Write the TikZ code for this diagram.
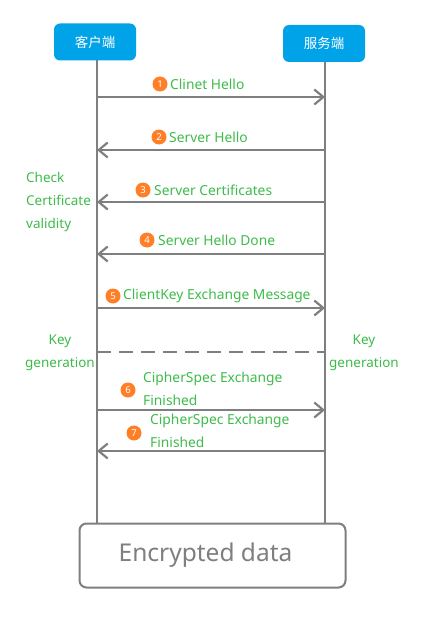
\documentclass[tikz,border=0pt]{standalone}
\usepackage{fontspec}
\setmainfont{Noto Sans}
\newfontfamily\cjk{Noto Sans CJK SC}
\usetikzlibrary{arrows.meta}
\definecolor{hdr}{HTML}{00A2E8}
\definecolor{lgray}{HTML}{7F7F7F}
\definecolor{lbl}{HTML}{3DBB4B}
\definecolor{num}{HTML}{FF7F27}
\tikzset{
  hdrbox/.style={fill=hdr, rounded corners=6pt, minimum width=82pt, minimum height=37pt, text=white, font=\cjk\fontsize{13.5}{15}\selectfont, inner sep=0pt},
  life/.style={draw=lgray, line width=2.5pt},
  msg/.style={draw=lgray, line width=2.5pt, -{Straight Barb[length=9pt,width=15pt,line width=2.2pt]}},
  numc/.style={circle, fill=num, text=white, minimum size=15pt, inner sep=0pt, font=\fontsize{9.5}{10}\selectfont},
  lab/.style={text=lbl, font=\fontsize{13.8}{16}\selectfont, inner sep=0pt, anchor=west},
  side/.style={text=lbl, font=\fontsize{13.5}{23}\selectfont, inner sep=0pt, align=center},
}
\begin{document}
\begin{tikzpicture}[x=1pt,y=-1pt]
\useasboundingbox (0,0) rectangle (447,623);
% lifelines
\coordinate (ctop) at (97,60);
\coordinate (cbot) at (97,525);
\coordinate (stop) at (325,62);
\coordinate (sbot) at (325,525);
\draw[life] (ctop) -- (cbot);
\draw[life] (stop) -- (sbot);
% headers
\node[hdrbox] (cli) at (95,42) {客户端};
\node[hdrbox] (srv) at (324,43.5) {服务端};
% encrypted box
\node[draw=lgray, line width=2pt, rounded corners=7pt, fill=white, minimum width=266pt, minimum height=64pt, text=lgray, font=\fontsize{24.5}{28}\selectfont] (enc) at (212.5,555.5) {\hspace*{-14pt}Encrypted data};
% message coordinates
\foreach \i/\y in {1/97,2/150,3/202,4/254,5/308,6/410,7/451}{
  \coordinate (c\i) at (97,\y);
  \coordinate (s\i) at (325,\y);
}
\draw[msg] (c1) -- (s1);
\draw[msg] (s2) -- (c2);
\draw[msg] (s3) -- (c3);
\draw[msg] (s4) -- (c4);
\draw[msg] (c5) -- (s5);
\draw[msg] (c6) -- (s6);
\draw[msg] (s7) -- (c7);
% dashed separator
\coordinate (cd) at (97,352);
\coordinate (sd) at (325,352);
\draw[draw=lgray, line width=2.5pt, dash pattern=on 14pt off 8pt] (cd) -- (sd);
% labels
\node[numc] (n1) at (160,84) {1};
\node[lab] (t1) at (170,84) {Clinet Hello};
\node[numc] (n2) at (159,137) {2};
\node[lab] (t2) at (169,137) {Server Hello};
\node[numc] (n3) at (143,190) {3};
\node[lab] (t3) at (154,190) {Server Certificates};
\node[numc] (n4) at (147,240) {4};
\node[lab] (t4) at (158,240) {Server Hello Done};
\node[numc] (n5) at (113,296) {5};
\node[lab] (t5) at (123,296) {ClientKey Exchange Message};
\node[numc] (n6) at (128,390) {6};
\node[lab, align=left, font=\fontsize{13.8}{23}\selectfont] (t6) at (143,388.5) {CipherSpec Exchange\\Finished};
\node[numc] (n7) at (134,433) {7};
\node[lab, align=left, font=\fontsize{13.8}{23}\selectfont] (t7) at (150,431) {CipherSpec Exchange\\Finished};
% side notes
\node[side, align=left, anchor=west] (chk) at (26,202) {Check\\Certificate\\validity};
\node[side] (kl) at (60,353) {Key\\generation};
\node[side] (kr) at (364,353) {Key\\generation};
\end{tikzpicture}
\end{document}
